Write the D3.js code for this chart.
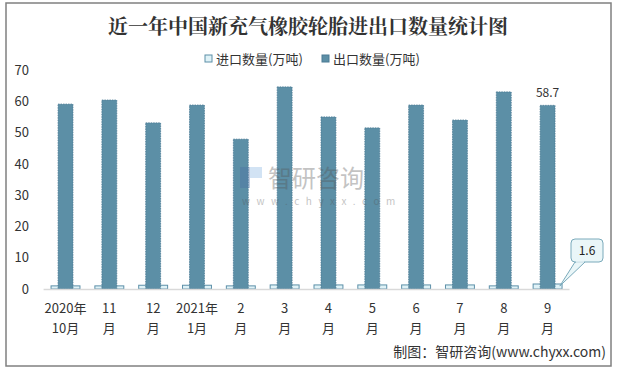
<!DOCTYPE html>
<html><head><meta charset="utf-8">
<script src="https://cdn.jsdelivr.net/npm/d3@7"></script>
<style>
body{margin:0;background:#fff;}
svg{display:block;font-family:"Microsoft YaHei","Noto Sans CJK SC",sans-serif;}
</style></head>
<body>
<svg id="chart" width="617" height="370"></svg>
<script>
const categories = ["2020年\n10月","11\n月","12\n月","2021年\n1月","2\n月","3\n月","4\n月","5\n月","6\n月","7\n月","8\n月","9\n月"];
const importValues = [1.0,1.0,1.2,1.2,1.0,1.3,1.3,1.3,1.3,1.3,1.0,1.6];
const exportValues = [59.1,60.4,53.1,58.8,47.9,64.6,55.0,51.5,58.8,54.0,63.0,58.7];
const yTicks = [0,10,20,30,40,50,60,70];
const seriesNames = ["进口数量(万吨)","出口数量(万吨)"];

const svg = d3.select("#chart");
svg.append("rect").attr("x",6).attr("y",3).attr("width",605).attr("height",363)
  .attr("fill","#fff").attr("stroke","#808080").attr("stroke-width",1.5);

svg.append("text").attr("x",308).attr("y",34).attr("text-anchor","middle")
  .attr("font-size",20).attr("font-weight","bold").attr("fill","#333")
  .attr("font-family","'Noto Serif CJK SC','Noto Sans CJK SC',serif")
  .text("近一年中国新充气橡胶轮胎进出口数量统计图");

const x = d3.scaleBand().domain(categories.map((d,i)=>i)).range([43.6,569.5]).padding(0);
const y = d3.scaleLinear().domain([0,70]).range([289,70]);
const bw = x.bandwidth();

// y axis labels
const yAxis = d3.axisLeft(y).tickValues(yTicks).tickSize(0).tickPadding(0);
const ya = svg.append("g").attr("transform","translate(29,0)").call(yAxis);
ya.select(".domain").remove();
ya.selectAll("text").attr("font-size",13).attr("fill","#333")
  .attr("font-family","'Microsoft YaHei','Noto Sans CJK SC',sans-serif");

// import bars (wide, light)
svg.append("g").selectAll("rect").data(importValues).join("rect")
  .attr("x",(d,i)=>x(i)+bw/2-bw*0.33)
  .attr("width",bw*0.66)
  .attr("y",d=>y(d)).attr("height",d=>y(0)-y(d))
  .attr("fill","#dff2f7").attr("stroke","#5c8fa8").attr("stroke-width",1);

// export bars
svg.append("g").selectAll("rect").data(exportValues).join("rect")
  .attr("x",(d,i)=>x(i)+bw/2-bw*0.17)
  .attr("width",bw*0.34)
  .attr("y",d=>y(d)).attr("height",d=>y(0)-y(d))
  .attr("fill","#5c8fa6").attr("stroke","#4a7a94").attr("stroke-width",0.8)
  .attr("stroke-dasharray","1.5,1");

// watermark (over bars, semi-transparent)
const wm = svg.append("g").attr("opacity",0.35);
wm.append("rect").attr("x",240).attr("y",167).attr("width",10).attr("height",21).attr("fill","#4a6fa5");
wm.append("rect").attr("x",250).attr("y",167).attr("width",12).attr("height",11).attr("fill","#7fb2e0");
wm.append("text").attr("x",268).attr("y",187).attr("font-size",24).attr("fill","#555").text("智研咨询");
wm.append("text").attr("x",242).attr("y",205).attr("font-size",10).attr("fill","#555")
  .attr("letter-spacing",6.5).text("www.chyxx.com");

// x axis line
svg.append("line").attr("x1",43.6).attr("x2",569.5).attr("y1",289.5).attr("y2",289.5)
  .attr("stroke","#d9d9d9").attr("stroke-width",1.5);

// x labels
const xl = svg.append("g").selectAll("text").data(categories).join("text")
  .attr("text-anchor","middle").attr("font-size",13).attr("fill","#333")
  .attr("transform",(d,i)=>`translate(${x(i)+bw/2},0)`);
xl.selectAll("tspan").data(d=>d.split("\n")).join("tspan")
  .attr("x",0).attr("y",(d,j)=>313+j*20).text(d=>d);

// data label for last export
const last = exportValues.length-1;
svg.append("text").attr("x",x(last)+bw/2).attr("y",y(exportValues[last])-8)
  .attr("text-anchor","middle").attr("font-size",12).attr("fill","#333")
  .text(exportValues[last].toFixed(1));

// callout for last import
const px = x(last)+bw/2+bw*0.28, py = y(importValues[last])+2;
const bx = 571, by = 239, bwid = 32, bh = 23;
svg.append("path")
  .attr("d",`M${bx+4},${by+bh} L${px},${py} L${bx+14},${by+bh} Z`)
  .attr("fill","#eaf6f8").attr("stroke","#7aaabb").attr("stroke-width",1);
svg.append("rect").attr("x",bx).attr("y",by).attr("width",bwid).attr("height",bh)
  .attr("rx",4).attr("fill","#eaf6f8").attr("stroke","#7aaabb").attr("stroke-width",1);
svg.append("line").attr("x1",bx+5).attr("x2",bx+13).attr("y1",by+bh).attr("y2",by+bh)
  .attr("stroke","#eaf6f8").attr("stroke-width",1.5);
svg.append("text").attr("x",bx+bwid/2).attr("y",by+16).attr("text-anchor","middle")
  .attr("font-size",12).attr("fill","#222").text(importValues[last].toFixed(1));

// legend
const lg = svg.append("g");
const legendX = [205, 322];
lg.selectAll("rect").data(seriesNames).join("rect")
  .attr("x",(d,i)=>legendX[i]).attr("y",55).attr("width",7).attr("height",7)
  .attr("fill",(d,i)=>i?"#5c8fa6":"#dff2f7").attr("stroke",(d,i)=>i?"#4a7a94":"#5c8fa8");
lg.selectAll("text").data(seriesNames).join("text")
  .attr("x",(d,i)=>legendX[i]+11).attr("y",63.5).attr("font-size",13).attr("fill","#333")
  .text(d=>d);

// source
svg.append("text").attr("x",606).attr("y",357).attr("text-anchor","end")
  .attr("font-size",14).attr("fill","#333").text("制图：智研咨询(www.chyxx.com)");
</script>
</body></html>
